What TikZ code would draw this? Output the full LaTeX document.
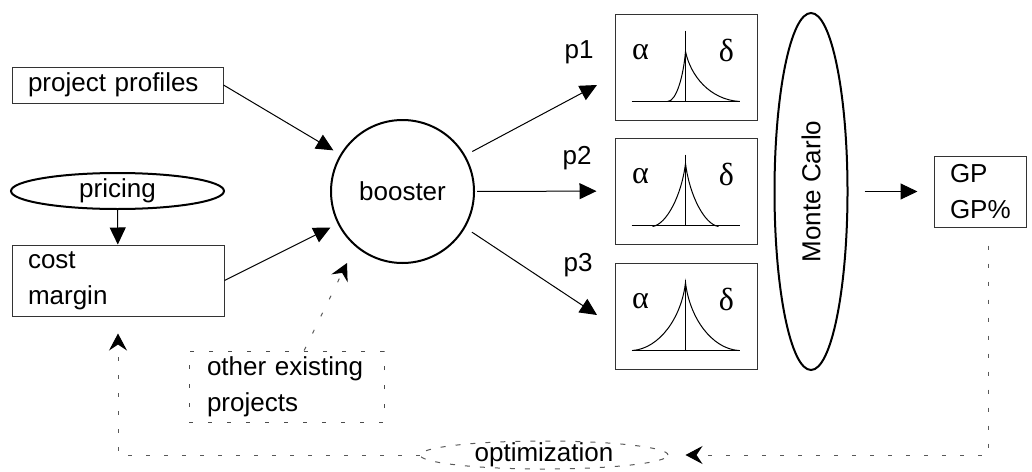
\documentclass[tikz,border=0pt]{standalone}
\usepackage{fontspec}
\setmainfont{Liberation Sans}
\newfontfamily\greekfont{Liberation Serif}
\usetikzlibrary{shapes.geometric,arrows.meta}

\tikzset{
  box/.style={draw=black!80, line width=0.5pt, inner xsep=8pt, inner ysep=0pt, align=left},
  dashbox/.style={box, draw=black!70, dash pattern=on 2pt off 7.5pt, inner xsep=9pt},
  oval/.style={draw, ellipse, line width=1pt, inner sep=0pt},
  distbox/.style={draw=black!80, line width=0.5pt, minimum width=71pt, minimum height=53pt, inner sep=0pt},
  flow/.style={line width=0.5pt, -{Triangle[length=8.5pt,width=8pt]}},
  loopline/.style={draw=black!65, line width=0.5pt, dash pattern=on 2pt off 7pt,
    -{Stealth[length=8.5pt,width=9pt,inset=3pt,black]}},
  greek/.style={font=\greekfont\fontsize{16}{18}\selectfont}
}

\begin{document}
\begin{tikzpicture}[x=0.5pt, y=-0.5pt, font=\fontsize{13}{18}\selectfont]
    \useasboundingbox (0,0) rectangle (1032,471);

    % inputs on the left
    \node[box, text width=89.5pt, minimum height=18pt] (profiles) at (117.5,85) {project profiles};
    \node[oval, minimum width=106.5pt, minimum height=18pt] (pricing) at (117.5,191) {pricing};
    \node[box, text width=90pt, minimum height=35.5pt] (cost) at (118,280.5) {cost\\margin};
    \node[dashbox, text width=79.5pt, minimum height=35.5pt] (other) at (286.5,386.5) {other existing\\projects};

    % booster
    \node[draw, circle, line width=1pt, minimum size=71.5pt, inner sep=0pt] (booster) at (402.5,191.5) {booster};

    \draw[flow] (pricing) -- (cost);
    \draw[flow, shorten >=4pt] (profiles.east) -- (booster);
    \draw[flow, shorten >=4pt] (cost.east) -- (booster);
    \coordinate (othertip) at (347,263);
    \draw[loopline, dash pattern=on 2pt off 7.5pt] (other) -- (othertip);

    % three distributions
    \foreach \name/\yc in {p1/67, p2/191, p3/316} {
        \node[distbox] (\name) at (686,\yc) {};
        \begin{scope}[shift={(\name.north west)}]
            \node[greek] (\name-a) at (26,39) {α};
            \node[greek] (\name-d) at (112,37) {δ};
            \draw[line width=0.5pt] (17,88) -- (125,88) (71,17) -- (71,88);
        \end{scope}
    }
    \begin{scope}[shift={(p1.north west)}, line width=0.5pt]
        \draw (53,88) .. controls (62,88) and (69,62) .. (71,38)
            .. controls (76,62) and (95,86) .. (125,88);
    \end{scope}
    \begin{scope}[shift={(p2.north west)}, line width=0.5pt]
        \draw (38,89) .. controls (52,87) and (67,58) .. (71,26)
            .. controls (75,58) and (90,87) .. (104,89);
    \end{scope}
    \begin{scope}[shift={(p3.north west)}, line width=0.5pt]
        \draw (18,88) .. controls (45,86) and (67,55) .. (71,20)
            .. controls (75,55) and (97,86) .. (124,88);
    \end{scope}

    \node (p1lab) at (579,52) {p1};
    \node (p2lab) at (577,158) {p2};
    \node (p3lab) at (578,265) {p3};

    \coordinate (p1tip) at (597,85);
    \coordinate (p3tip) at (597,315);
    \draw[flow, shorten <=4pt] (booster.30) -- (p1tip);
    \draw[flow, shorten <=1pt, shorten >=9pt] (booster) -- (p2);
    \draw[flow, shorten <=4pt] (booster.-30) -- (p3tip);

    % Monte Carlo and result
    \node[oval, rotate=90, minimum width=178.5pt, minimum height=36.5pt] (mc) at (811,191.5) {Monte Carlo};
    \node[box, text width=30pt, minimum height=35.5pt] (gp) at (980,191.5) {GP\\GP\%};
    \draw[flow, shorten <=8pt, shorten >=8pt] (mc) -- (gp);

    % optimization loop back to cost
    \node[oval, draw=black!65, line width=0.5pt, dash pattern=on 2.5pt off 5pt,
        minimum width=124pt, minimum height=14pt, label=center:optimization] (opt) at (544,455) {};
    \coordinate (loopr) at (988,455);
    \coordinate (loopl) at (118,455);
    \draw[loopline, shorten <=9pt, shorten >=8.5pt] ([xshift=4pt]gp.south) -- (loopr) -- (opt);
    \draw[loopline, shorten >=8.5pt] (opt) -- (loopl) -- (cost);
\end{tikzpicture}
\end{document}
